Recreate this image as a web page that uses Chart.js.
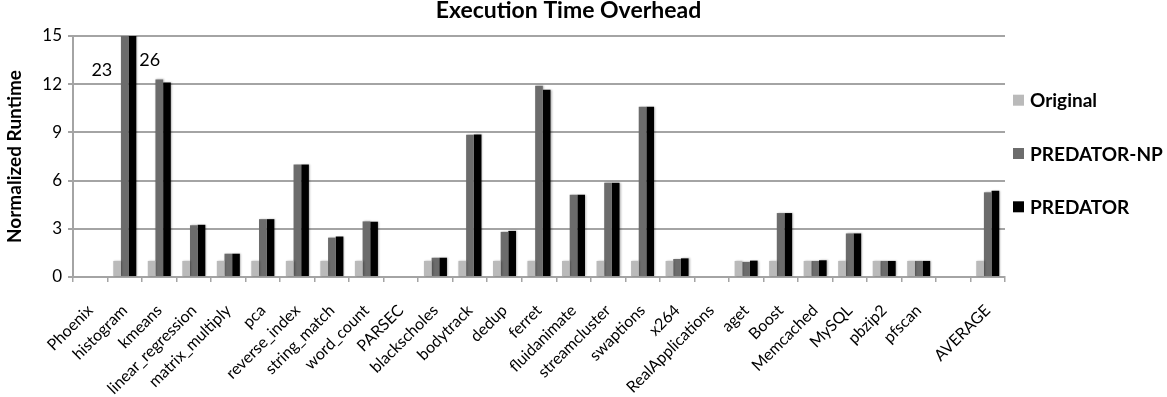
<!DOCTYPE html>
<html>
<head>
<meta charset="utf-8">
<script src="https://cdn.jsdelivr.net/npm/chart.js@4.4.1/dist/chart.umd.min.js"></script>
<style>
  html, body { margin: 0; padding: 0; background: #ffffff; }
  #wrap { width: 1167px; height: 397px; position: relative; }
</style>
</head>
<body>
<div id="wrap"><canvas id="chart"></canvas></div>
<script>
// Benchmarks, grouped by suite; suite headers and the spacer slot carry no bars.
const categories = [
  'Phoenix', 'histogram', 'kmeans', 'linear_regression', 'matrix_multiply', 'pca',
  'reverse_index', 'string_match', 'word_count', 'PARSEC', 'blackscholes', 'bodytrack',
  'dedup', 'ferret', 'fluidanimate', 'streamcluster', 'swaptions', 'x264',
  'RealApplications', 'aget', 'Boost', 'Memcached', 'MySQL', 'pbzip2', 'pfscan', '', 'AVERAGE'
];

const seriesNames = ['Original', 'PREDATOR-NP', 'PREDATOR'];

const original = [
  null, 1, 1, 1, 1, 1, 1, 1, 1, null, 1, 1, 1, 1, 1, 1, 1, 1,
  null, 1, 1, 1, 1, 1, 1, null, 1
];
const predatorNP = [
  null, 23, 12.3, 3.22, 1.45, 3.6, 7.0, 2.45, 3.46, null, 1.2, 8.85, 2.81, 11.9, 5.12, 5.87, 10.6, 1.12,
  null, 0.94, 3.98, 1.0, 2.71, 1.0, 1.0, null, 5.27
];
const predator = [
  null, 26, 12.1, 3.25, 1.45, 3.6, 7.0, 2.52, 3.44, null, 1.2, 8.87, 2.87, 11.65, 5.12, 5.87, 10.6, 1.16,
  null, 1.02, 3.98, 1.04, 2.71, 1.0, 1.0, null, 5.37
];

const yTicks = [0, 3, 6, 9, 12, 15];

const chartTitle = 'Execution Time Overhead';
const yAxisTitle = 'Normalized Runtime';

const FONT = 'Lato';
const seriesColors = ['#bababa', '#6c6c6c', '#000000'];
const gridColor = '#a4a4a4';

// Soft drop shadow under the bars.
const barShadow = {
  id: 'barShadow',
  beforeDatasetsDraw(chart) {
    const ctx = chart.ctx;
    ctx.save();
    ctx.shadowColor = 'rgba(0,0,0,0.28)';
    ctx.shadowBlur = 2;
    ctx.shadowOffsetX = 1;
    ctx.shadowOffsetY = 0;
  },
  afterDatasetsDraw(chart) {
    chart.ctx.restore();
  }
};

// Values that run past the top of the axis are written next to their bars.
const overflowLabels = {
  id: 'overflowLabels',
  afterDatasetsDraw(chart) {
    const ctx = chart.ctx;
    const yMax = chart.scales.y.max;
    const area = chart.chartArea;
    ctx.save();
    ctx.font = `18px ${FONT}`;
    ctx.fillStyle = '#000';
    ctx.textBaseline = 'middle';
    [1, 2].forEach(dsIndex => {
      const meta = chart.getDatasetMeta(dsIndex);
      chart.data.datasets[dsIndex].data.forEach((v, i) => {
        if (v == null || v <= yMax) return;
        const bar = meta.data[i];
        const w = bar.width;
        if (dsIndex === 1) {
          ctx.textAlign = 'right';
          ctx.fillText(String(v), bar.x - 1.5 * w - 1, area.top + 34);
        } else {
          ctx.textAlign = 'left';
          ctx.fillText(String(v), bar.x + 0.5 * w + 3, area.top + 24);
        }
      });
    });
    ctx.restore();
  }
};

// Title and the legend column on the right.
const frameText = {
  id: 'frameText',
  afterDraw(chart) {
    const ctx = chart.ctx;
    const area = chart.chartArea;
    ctx.save();
    ctx.fillStyle = '#000';
    ctx.font = `bold 23px ${FONT}`;
    ctx.textAlign = 'center';
    ctx.textBaseline = 'middle';
    ctx.fillText(chartTitle, chart.width / 2 - 15, 11);

    const mid = (area.top + area.bottom) / 2 - 3;
    const step = 53.3;
    ctx.font = `bold 19px ${FONT}`;
    ctx.textAlign = 'left';
    chart.data.datasets.forEach((ds, k) => {
      const cy = mid + (k - 1) * step;
      const x0 = area.right + 8;
      ctx.fillStyle = ds.backgroundColor;
      ctx.fillRect(x0, cy - 5.5, 11, 11);
      ctx.fillStyle = '#000';
      ctx.fillText(ds.label, x0 + 17, cy + 1);
    });
    ctx.restore();
  }
};

new Chart(document.getElementById('chart'), {
  type: 'bar',
  data: {
    labels: categories,
    datasets: [
      { label: seriesNames[0], data: original, backgroundColor: seriesColors[0] },
      { label: seriesNames[1], data: predatorNP, backgroundColor: seriesColors[1] },
      { label: seriesNames[2], data: predator, backgroundColor: seriesColors[2] }
    ]
  },
  options: {
    responsive: true,
    maintainAspectRatio: false,
    animation: false,
    events: [],
    layout: { padding: { top: 36, right: 162, left: 0, bottom: 0 } },
    datasets: {
      bar: { categoryPercentage: 0.667, barPercentage: 1.0, borderWidth: 0 }
    },
    plugins: {
      legend: { display: false },
      title: { display: false },
      tooltip: { enabled: false }
    },
    scales: {
      x: {
        grid: { display: true, drawOnChartArea: false, drawTicks: true, tickLength: 5, color: gridColor, lineWidth: 1.5, offset: true },
        border: { display: true, color: gridColor, width: 2 },
        ticks: {
          autoSkip: false, minRotation: 45, maxRotation: 45,
          color: '#000', padding: 19,
          font: { family: FONT, size: 16 }
        },
        afterFit(scale) { scale.height = 120; }
      },
      y: {
        min: 0, max: 15,
        afterBuildTicks(scale) { scale.ticks = yTicks.map(v => ({ value: v })); },
        grid: { color: gridColor, lineWidth: 2, tickLength: 5, drawTicks: true },
        border: { display: true, color: gridColor, width: 2 },
        ticks: { color: '#000', padding: 6, font: { family: FONT, size: 17 } },
        title: {
          display: true, text: yAxisTitle, color: '#000',
          font: { family: FONT, size: 19, weight: 'bold' },
          padding: { top: 3, bottom: 0 }
        },
        afterFit(scale) { scale.width = 73; }
      }
    }
  },
  plugins: [barShadow, overflowLabels, frameText]
});
</script>
</body>
</html>
